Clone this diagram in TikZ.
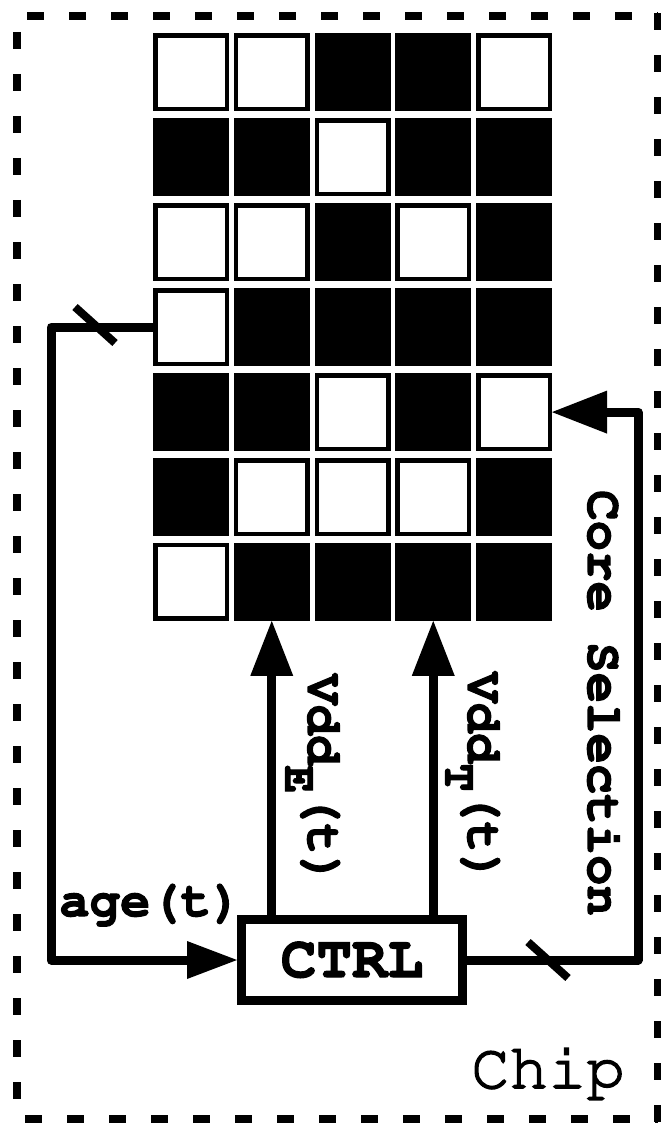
\documentclass[tikz,border=0pt]{standalone}
\usepackage[T1]{fontenc}
\usepackage{courier}
\usetikzlibrary{arrows.meta,calc}
\newlength\pxl
\setlength\pxl{0.75pt}
\newcommand\heavytext[2]{\special{pdf:literal direct #1 w 2 Tr}#2\special{pdf:literal direct 0 Tr}}
\begin{document}
\begin{tikzpicture}[x=0.75pt,y=-0.75pt,
  cellw/.style={draw=black,fill=white,line width=4.5\pxl,minimum width=71.5\pxl,minimum height=73.5\pxl,inner sep=0pt},
  cellb/.style={cellw,fill=black},
  conn/.style={line width=9\pxl,line join=round},
  bigtip/.style={-{Triangle[length=41.25pt,width=32.25pt,line width=0pt]}},
  smalltip/.style={-{Triangle[length=37.5pt,width=28.5pt,line width=0pt]}},
  slashmark/.style={line width=8\pxl},
  border/.style={line width=8\pxl,dash pattern=on 12.75pt off 18.75pt},
  lbl/.style={inner sep=0pt,font=\fontsize{38}{38}\selectfont\ttfamily\bfseries},
  ctrlbox/.style={draw=black,line width=9\pxl,minimum width=221\pxl,minimum height=81\pxl,inner sep=0pt,font=\fontsize{44.5}{44.5}\selectfont\ttfamily\bfseries},
  chiplbl/.style={inner sep=0pt,font=\fontsize{48}{48}\selectfont\ttfamily}
]
\useasboundingbox (0,0) rectangle (660,1123);

% chip border
\draw[border,dash phase=24pt] (17,16) -- (658,16);
\draw[border,dash phase=19.5pt] (17,16) -- (17,1119);
\draw[border,dash phase=0pt] (658,13) -- (658,1123);
\draw[border,dash phase=25.5pt] (17,1119) -- (658,1119);

% core grid
\foreach \r/\row in {1/{w,w,b,b,w},2/{b,b,w,b,b},3/{w,w,b,w,b},4/{w,b,b,b,b},5/{b,b,w,b,w},6/{b,w,w,w,b},7/{w,b,b,b,b}}{
  \foreach \t [count=\c] in \row {
    \node[cell\t] (c\r\c) at ({191+80.75*(\c-1)},{72.5+84.9*(\r-1)}) {};
  }
}

% controller
\node[ctrlbox] (ctrl) at (352,960) {\heavytext{0.9}{CTRL}};

\coordinate (lc) at (51,0);
\coordinate (rc) at (638,0);

% age feedback
\draw[conn,smalltip] (c41.west) -- (c41.west -| lc) |- (ctrl.west);
\draw[slashmark] (95,325) ++(-20,-18) -- ++(40,36);

% voltages
\draw[conn,bigtip] (ctrl.north -| c72.south) -- (c72.south);
\draw[conn,bigtip] (ctrl.north -| c74.south) -- (c74.south);

% core selection
\draw[conn,bigtip] (ctrl.east) -- (ctrl.east -| rc) |- (c55.east);
\draw[slashmark] (548,960) ++(-20,-18) -- ++(40,36);

% labels
\node[lbl,anchor=base west] (age) at (59,916) {\heavytext{0.8}{age(t)}};
\node[lbl,rotate=-90,anchor=base west] (vdde) at (308,674) {\heavytext{0.8}{Vdd\raisebox{-17pt}{\fontsize{35}{35}\selectfont E}(t)}};
\node[lbl,rotate=-90,anchor=base west] (vddt) at (468,672) {\heavytext{0.8}{Vdd\raisebox{-17pt}{\fontsize{35}{35}\selectfont T}(t)}};
\node[lbl,rotate=-90,anchor=base west] (cs) at (588,490) {\heavytext{0.8}{Core Selection}};
\node[chiplbl,anchor=base west] (chip) at (471,1088) {\heavytext{1.1}{Chip}};
\end{tikzpicture}
\end{document}
